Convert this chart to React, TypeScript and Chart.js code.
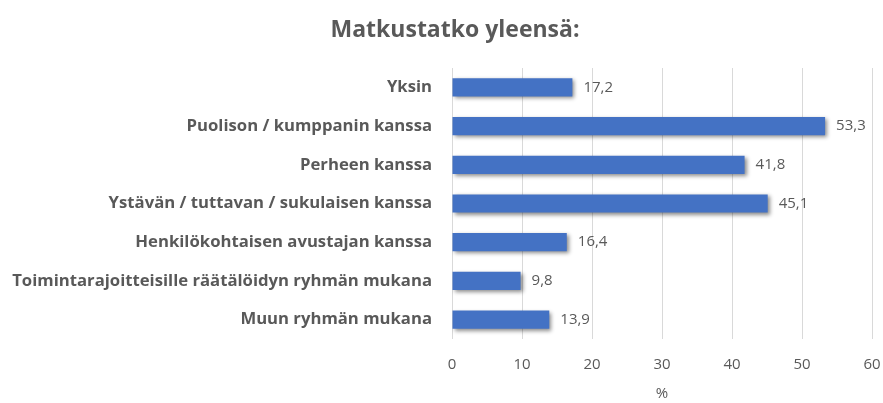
import React, { useEffect, useRef } from "react";
import { Chart, registerables } from "chart.js";

Chart.register(...registerables);

const categories = [
  "Yksin",
  "Puolison / kumppanin kanssa",
  "Perheen kanssa",
  "Ystävän / tuttavan / sukulaisen kanssa",
  "Henkilökohtaisen avustajan kanssa",
  "Toimintarajoitteisille räätälöidyn ryhmän mukana",
  "Muun ryhmän mukana",
];
const values = [17.2, 53.3, 41.8, 45.1, 16.4, 9.8, 13.9];
const titleText = "Matkustatko yleensä:";
const axisTitle = "%";

const FONT = "'Open Sans', sans-serif";
const GRAY = "#595959";

const shadowPlugin = {
  id: "barShadow",
  beforeDatasetsDraw(chart: any) {
    const ctx = chart.ctx;
    ctx.save();
    ctx.shadowColor = "rgba(0,0,0,0.45)";
    ctx.shadowBlur = 4;
    ctx.shadowOffsetX = 2;
    ctx.shadowOffsetY = 2;
  },
  afterDatasetsDraw(chart: any) {
    chart.ctx.restore();
  },
};

const labelPlugin = {
  id: "valueLabels",
  afterDatasetsDraw(chart: any) {
    const ctx = chart.ctx;
    const meta = chart.getDatasetMeta(0);
    ctx.save();
    ctx.font = `15px ${FONT}`;
    ctx.fillStyle = GRAY;
    ctx.textAlign = "left";
    ctx.textBaseline = "middle";
    meta.data.forEach((bar: any, i: number) => {
      const v = chart.data.datasets[0].data[i] as number;
      ctx.fillText(v.toFixed(1).replace(".", ","), bar.x + 11, bar.y);
    });
    ctx.restore();
  },
};

const titlePlugin = {
  id: "customTitle",
  afterDraw(chart: any) {
    const ctx = chart.ctx;
    ctx.save();
    ctx.font = `bold 23px ${FONT}`;
    ctx.fillStyle = GRAY;
    ctx.textAlign = "center";
    ctx.textBaseline = "middle";
    ctx.fillText(titleText, 455, 30);
    ctx.restore();
  },
};

export default function App() {
  const ref = useRef<HTMLCanvasElement>(null);
  useEffect(() => {
    if (!ref.current) return;
    const chart = new Chart(ref.current, {
      type: "bar",
      data: {
        labels: categories,
        datasets: [
          {
            data: values,
            backgroundColor: "#4472C4",
            borderWidth: 0,
            barPercentage: 0.47,
            categoryPercentage: 1,
          },
        ],
      },
      options: {
        indexAxis: "y",
        animation: false,
        responsive: false,
        maintainAspectRatio: false,
        layout: { padding: { left: 0, right: 0, top: 68, bottom: 0 } },
        plugins: {
          legend: { display: false },
          tooltip: { enabled: false },
          title: { display: false },
        },
        scales: {
          x: {
            min: 0,
            max: 60,
            ticks: {
              stepSize: 10,
              color: GRAY,
              font: { family: FONT, size: 15 },
              padding: 17,
            },
            grid: { color: "#d9d9d9", drawTicks: false },
            border: { display: false },
            title: {
              display: true,
              text: axisTitle,
              color: GRAY,
              font: { family: FONT, size: 15 },
              padding: { top: 0, bottom: 0 },
            },
            afterFit(scale: any) {
              scale.paddingRight = 11;
              scale.paddingLeft = 0;
              scale.height = 64;
            },
          },
          y: {
            ticks: {
              color: GRAY,
              font: { family: FONT, size: 16.7, weight: "bold" },
              padding: 20,
            },
            grid: { display: false, drawTicks: false },
            border: { display: false },
            afterFit(scale: any) {
              scale.width = 452;
            },
          },
        },
      },
      plugins: [shadowPlugin, labelPlugin, titlePlugin],
    });
    return () => chart.destroy();
  }, []);
  return (
    <div style={{ position: "fixed", left: 0, top: 0, width: 883, height: 403, background: "#fff" }}>
      <canvas ref={ref} width={883} height={403} />
    </div>
  );
}
